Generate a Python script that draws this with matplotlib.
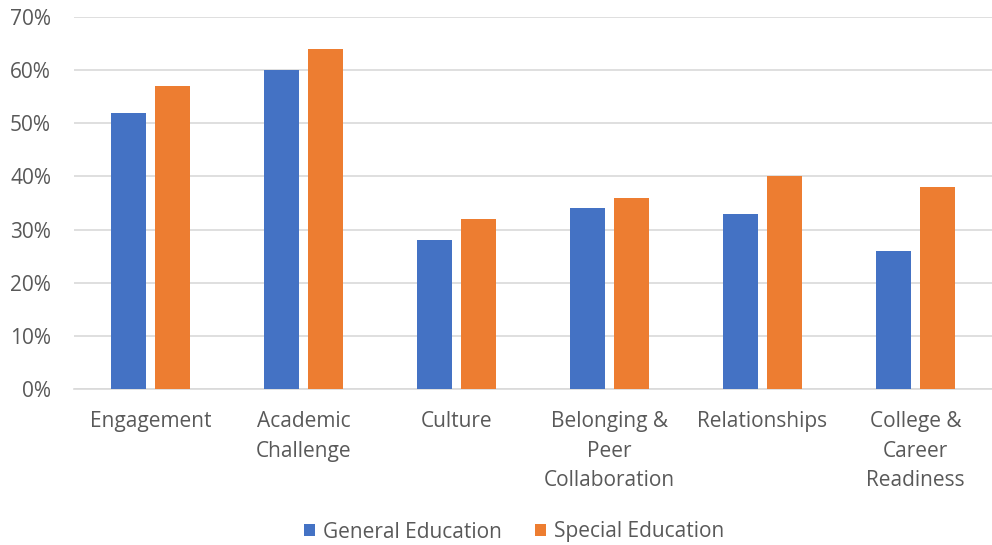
import matplotlib
matplotlib.use("Agg")
import matplotlib.pyplot as plt
import numpy as np
from matplotlib.ticker import PercentFormatter

categories = ["Engagement", "Academic\nChallenge", "Culture", "Belonging &\nPeer\nCollaboration",
              "Relationships", "College &\nCareer\nReadiness"]
general_ed = [52, 60, 28, 34, 33, 26]
special_ed = [57, 64, 32, 36, 40, 38]
series_names = ["General Education", "Special Education"]

plt.rcParams['font.family'] = ['Open Sans', 'DejaVu Sans']
text_color = "#595959"

fig = plt.figure(figsize=(9.92, 5.45), dpi=100)
ax = fig.add_axes([74/992, 1 - 389/545, (992-74)/992, (389-17)/545])

x = np.arange(len(categories))
w = 0.227
gap = 0.03
ax.bar(x - w/2 - gap, general_ed, width=w, color="#4472C4", label=series_names[0], zorder=3)
ax.bar(x + w/2 + gap, special_ed, width=w, color="#ED7D31", label=series_names[1], zorder=3)

ax.set_xlim(-0.5, len(categories) - 0.5)
ax.set_ylim(0, 70)
ax.set_yticks(np.arange(0, 71, 10))
ax.yaxis.set_major_formatter(PercentFormatter(decimals=0))
ax.grid(axis="y", color="#D9D9D9", linewidth=1.2, zorder=0)
for s in ["top", "right", "left"]:
    ax.spines[s].set_visible(False)
ax.spines["bottom"].set_color("#D9D9D9")
ax.spines["bottom"].set_linewidth(1.2)
ax.tick_params(axis="both", length=0, colors=text_color, labelsize=15)
ax.tick_params(axis="y", pad=16.5)
ax.tick_params(axis="x", pad=16)
ax.set_xticks(x)
ax.set_xticklabels(categories, linespacing=1.52)

fig.legend(loc="center", bbox_to_anchor=(514/992, 1 - 532/545), ncol=2, frameon=False,
           fontsize=15, labelcolor=text_color, handlelength=0.55, handleheight=0.55,
           handletextpad=0.35, columnspacing=1.6)

fig.savefig("out.png", dpi=100)
